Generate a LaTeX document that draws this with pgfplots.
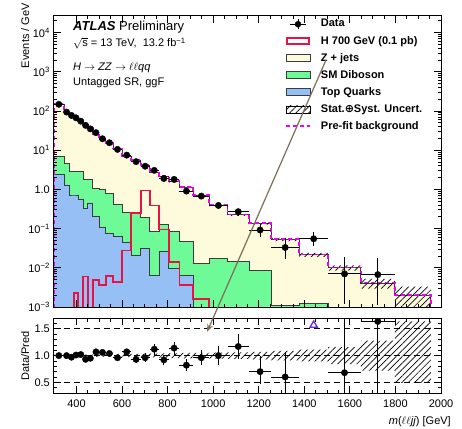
\documentclass[border=0pt]{standalone}
\usepackage{fontspec}
\setmainfont{Liberation Sans}
\newfontfamily\djv{DejaVu Sans}
\usepackage{pgfplots}
\pgfplotsset{compat=1.18}
\usepackage{pgfplotstable}
\usetikzlibrary{patterns,patterns.meta,arrows.meta}

\definecolor{zj}{RGB}{254,250,220}
\definecolor{dib}{RGB}{110,250,150}
\definecolor{topq}{RGB}{150,192,245}
\definecolor{sigc}{RGB}{230,20,70}
\definecolor{pref}{RGB}{240,0,240}
\definecolor{outl}{RGB}{60,60,60}
\definecolor{arrc}{RGB}{125,110,90}
\definecolor{tric}{RGB}{100,40,240}

\pgfplotstableread{
x tot grn blu sig pre
300 1e-5 1e-5 1e-5 1e-5 1e-5
300 148 6.8 2.4 1e-5 151
345 94 4.5 1.3 1e-5 96
368 79 2.9 0.72 1e-5 80.5
388 66 2.9 0.72 0.0023 67.3
408 54 2.9 0.55 1e-5 55
430 46 1.8 0.33 0.006 47
450 37 1.8 0.45 1e-5 37.7
472 26 1.04 0.2 0.005 26.5
499 18.5 1.0 0.11 0.0036 18.9
529 14.9 0.79 0.075 0.0061 15.2
560 10.9 0.41 0.064 0.0043 11.1
600 7.0 0.26 0.044 0.0276 7.15
641 5.5 0.24 0.021 0.254 5.6
682 4.06 0.19 0.031 0.94 4.14
721 2.77 0.087 0.0064 0.39 2.83
762 2.17 0.128 0.026 0.095 2.21
805 1.58 0.087 0.0095 0.014 1.61
852 1.15 0.048 0.0064 0.0036 1.17
913 0.70 0.0127 1e-5 0.0016 0.714
983 0.39 0.017 1e-5 1e-5 0.398
1063 0.225 0.0148 1e-5 1e-5 0.23
1157 0.136 0.0087 1e-5 1e-5 0.139
1255 0.053 0.0011 1e-5 1e-5 0.054
1377 0.0215 0.0012 1e-5 1e-5 0.0219
1505 0.0100 1e-5 1e-5 1e-5 0.0102
1648 0.0041 1e-5 1e-5 1e-5 0.0042
1797 0.0020 1e-5 1e-5 1e-5 0.00205
1955 0.0020 1e-5 1e-5 1e-5 0.00205
1955 1e-5 1e-5 1e-5 1e-5 1e-5
}\stack

\pgfplotstableread{
x y ex eyp eym
322.5 148 22.5 2 2
356.5 94 11.5 2 2
378 77 10 2 2
398 67 10 1.8 1.8
419 55 11 1.6 1.6
440 43 10 1.5 1.5
461 35 11 1.3 1.3
485.5 28 13.5 1 1
514 19.6 15 0.8 0.8
544.5 15.5 15.5 0.7 0.7
580 10.5 20 0.5 0.5
620.5 7.5 20.5 0.43 0.43
661.5 5.1 20.5 0.35 0.35
701.5 3.9 19.5 0.32 0.32
741.5 3.06 20.5 0.27 0.27
783.5 1.9 21.5 0.22 0.22
828.5 1.8 23.5 0.2 0.2
882.5 0.905 30.5 0.125 0.125
948 0.675 35 0.1 0.1
1023 0.39 40 0.07 0.07
1110 0.27 47 0.055 0.055
1206 0.092 49 0.04 0.03
1316 0.033 61 0.026 0.016
1441 0.055 64 0.027 0.02
1576.5 0.0070 71.5 0.0115 0.0058
1722.5 0.0067 74.5 0.011 0.0056
}\data

\pgfplotstableread{
x r ex ep em
322.5 1.00 22.5 0.012 0.012
356.5 1.00 11.5 0.02 0.02
378 0.97 10 0.02 0.02
398 1.01 10 0.025 0.025
419 1.02 11 0.025 0.025
440 0.93 10 0.03 0.03
461 0.95 11 0.035 0.035
485.5 1.07 13.5 0.04 0.04
514 1.06 15 0.04 0.04
544.5 1.04 15.5 0.045 0.045
580 0.96 20 0.045 0.045
620.5 1.07 20.5 0.06 0.06
661.5 0.93 20.5 0.065 0.065
701.5 0.96 19.5 0.08 0.08
741.5 1.12 20.5 0.1 0.1
783.5 0.92 21.5 0.1 0.1
828.5 1.14 23.5 0.12 0.12
882.5 0.82 30.5 0.11 0.11
948 0.96 35 0.14 0.14
1023 1.00 40 0.18 0.18
1110 1.17 47 0.24 0.24
1206 0.70 49 0.30 0.23
1316 0.60 61 0.47 0.30
1576.5 0.68 71.5 1.15 0.58
1722.5 1.64 74.5 2.7 1.4
}\ratio

\pgfplotsset{
  myaxis/.style={
    scale only axis, width=387.3pt,
    xmin=300, xmax=2000,
    xtick={400,600,...,2000}, minor x tick num=3,
    tick align=inside, axis on top,
    major tick length=7pt, minor tick length=3.5pt,
    every tick/.style={black,line width=0.8pt},
    axis line style={line width=1pt},
    tick label style={font=\fontsize{11}{13}\selectfont},
  },
  hatchband/.style={pattern={Lines[angle=45,distance=4.5pt,line width=0.7pt]}, pattern color=black, draw=none},
}

\begin{document}
\fontsize{11}{13}\selectfont
\begin{tikzpicture}
\path[use as bounding box] (0,0) rectangle (462pt,428pt);

\begin{axis}[myaxis,
  at={(53.7pt,121pt)}, anchor=south west, height=291.3pt,
  ymode=log, ymin=1e-3, ymax=2.7e4,
  xticklabels={},
  ytick={1e-3,1e-2,1e-1,1,10,100,1000,10000},
  yticklabels={10\textsuperscript{−3},10\textsuperscript{−2},10\textsuperscript{−1},1.0,10\textsuperscript{1},10\textsuperscript{2},10\textsuperscript{3},10\textsuperscript{4}},
  minor ytick={2e-3,3e-3,4e-3,5e-3,6e-3,7e-3,8e-3,9e-3,
    2e-2,3e-2,4e-2,5e-2,6e-2,7e-2,8e-2,9e-2,
    0.2,0.3,0.4,0.5,0.6,0.7,0.8,0.9,
    2,3,4,5,6,7,8,9,20,30,40,50,60,70,80,90,
    200,300,400,500,600,700,800,900,2000,3000,4000,5000,6000,7000,8000,9000,20000},
  legend style={at={(axis description cs:0.597,0.99)}, anchor=north west,
    draw=none, fill=none, font=\bfseries\fontsize{11}{13}\selectfont,
    inner sep=0pt, row sep=6.5pt, column sep=10pt,
    nodes={text height=8pt, text depth=2.5pt, inner sep=0pt}},
  legend cell align=left,
]
\addplot[const plot, fill=zj, draw=outl, line width=0.8pt, forget plot] table[x=x,y=tot]{\stack};
\addplot[const plot, fill=dib, draw=outl, line width=0.8pt, forget plot] table[x=x,y=grn]{\stack};
\addplot[const plot, fill=topq, draw=outl, line width=0.8pt, forget plot] table[x=x,y=blu]{\stack};
\addplot[hatchband, forget plot] coordinates {
(300,150.96)(345,150.96)(345,95.88)(368,95.88)(368,80.58)(388,80.58)(388,67.32)(408,67.32)(408,55.08)(430,55.08)(430,46.92)(450,46.92)(450,37.74)(472,37.74)(472,26.65)(499,26.65)(499,18.96)(529,18.96)(529,15.27)(560,15.27)(560,11.23)(600,11.23)(600,7.21)(641,7.21)(641,5.665)(682,5.665)(682,4.20)(721,4.20)(721,2.87)(762,2.87)(762,2.257)(805,2.257)(805,1.651)(852,1.651)(852,1.2075)(913,1.2075)(913,0.735)(983,0.735)(983,0.4115)(1063,0.4115)(1063,0.2385)(1157,0.2385)(1157,0.1455)(1255,0.1455)(1255,0.0578)(1377,0.0578)(1377,0.02387)(1505,0.02387)(1505,0.0115)(1648,0.0115)(1648,0.00525)(1797,0.00525)(1797,0.0033)(1955,0.0033)
(1955,0.00098)(1797,0.00098)(1797,0.00295)(1648,0.00295)(1648,0.0085)(1505,0.0085)(1505,0.01914)(1377,0.01914)(1377,0.0482)(1255,0.0482)(1255,0.1265)(1157,0.1265)(1157,0.2115)(1063,0.2115)(1063,0.3685)(983,0.3685)(983,0.665)(913,0.665)(913,1.0925)(852,1.0925)(852,1.509)(805,1.509)(805,2.083)(762,2.083)(762,2.67)(721,2.67)(721,3.92)(682,3.92)(682,5.335)(641,5.335)(641,6.79)(600,6.79)(600,10.57)(560,10.57)(560,14.53)(529,14.53)(529,18.04)(499,18.04)(499,25.35)(472,25.35)(472,36.26)(450,36.26)(450,45.08)(430,45.08)(430,52.92)(408,52.92)(408,64.68)(388,64.68)(388,77.42)(368,77.42)(368,92.12)(345,92.12)(345,145.04)(300,145.04)
};
\addplot[const plot, draw=sigc, line width=1.8pt, forget plot] table[x=x,y=sig]{\stack};
\addplot[const plot, draw=pref, line width=1.8pt, dash pattern=on 4pt off 3pt, forget plot] table[x=x,y=pre]{\stack};
\addplot[only marks, mark=*, mark size=3.2pt, black, forget plot,
  error bars/.cd, x dir=both, x explicit, y dir=both, y explicit,
  error bar style={line width=0.8pt,black}, error mark=none]
  table[x=x,y=y,x error=ex,y error plus=eyp,y error minus=eym]{\data};

\addlegendimage{legend image code/.code={\draw[black,line width=0.8pt] (12pt,-5pt)--(12pt,5pt) (4pt,0pt)--(20pt,0pt); \fill[black] (12pt,0pt) circle (3pt);}}
\addlegendentry{Data}
\addlegendimage{legend image code/.code={\draw[sigc,line width=1.8pt,fill=white] (1pt,-3pt) rectangle (23pt,3pt);}}
\addlegendentry{H 700 GeV (0.1 pb)}
\addlegendimage{legend image code/.code={\draw[outl,line width=0.8pt,fill=zj] (0pt,-3.5pt) rectangle (24pt,3.5pt);}}
\addlegendentry{Z + jets}
\addlegendimage{legend image code/.code={\draw[outl,line width=0.8pt,fill=dib] (0pt,-3.5pt) rectangle (24pt,3.5pt);}}
\addlegendentry{SM Diboson}
\addlegendimage{legend image code/.code={\draw[outl,line width=0.8pt,fill=topq] (0pt,-3.5pt) rectangle (24pt,3.5pt);}}
\addlegendentry{Top Quarks}
\addlegendimage{legend image code/.code={\fill[pattern={Lines[angle=45,distance=4.5pt,line width=0.7pt]}, pattern color=black] (0pt,-3.5pt) rectangle (24pt,3.5pt);}}
\addlegendentry{Stat.{\djv ⊕}Syst. Uncert.}
\addlegendimage{legend image code/.code={\draw[pref,line width=1.8pt,dash pattern=on 4pt off 3pt] (0pt,0pt)--(24pt,0pt);}}
\addlegendentry{Pre-fit background}
\end{axis}

\begin{axis}[myaxis,
  at={(53.7pt,35pt)}, anchor=south west, height=74.8pt,
  ymin=0.3, ymax=1.7,
  xticklabels={400,600,800,1000,1200,1400,1600,1800,2000},
  xticklabel style={yshift=-3pt},
  ytick={0.5,1,1.5}, yticklabels={0.5,1.0,1.5},
  minor ytick={0.4,0.6,0.7,0.8,0.9,1.1,1.2,1.3,1.4,1.6},
]
\addplot[hatchband] coordinates {
(300,1.02)(472,1.02)(472,1.025)(560,1.025)(560,1.03)(682,1.03)(682,1.035)(762,1.035)(762,1.04)(805,1.04)(805,1.045)(852,1.045)(852,1.05)(983,1.05)(983,1.055)(1063,1.055)(1063,1.06)(1157,1.06)(1157,1.07)(1255,1.07)(1255,1.09)(1377,1.09)(1377,1.11)(1505,1.11)(1505,1.16)(1648,1.16)(1648,1.28)(1797,1.28)(1797,1.64)(1955,1.64)
(1955,0.49)(1797,0.49)(1797,0.72)(1648,0.72)(1648,0.84)(1505,0.84)(1505,0.89)(1377,0.89)(1377,0.91)(1255,0.91)(1255,0.93)(1157,0.93)(1157,0.94)(1063,0.94)(1063,0.945)(983,0.945)(983,0.95)(852,0.95)(852,0.955)(805,0.955)(805,0.96)(762,0.96)(762,0.965)(682,0.965)(682,0.97)(560,0.97)(560,0.975)(472,0.975)(472,0.98)(300,0.98)
};
\addplot[black, line width=0.8pt, dash pattern=on 6pt off 4pt] coordinates {(300,0.5) (2000,0.5)};
\addplot[black, line width=0.8pt, dash pattern=on 6pt off 4pt] coordinates {(300,1) (2000,1)};
\addplot[black, line width=0.8pt, dash pattern=on 6pt off 4pt] coordinates {(300,1.5) (2000,1.5)};
\addplot[only marks, mark=*, mark size=3.2pt, black,
  error bars/.cd, x dir=both, x explicit, y dir=both, y explicit,
  error bar style={line width=0.8pt,black}, error mark=none]
  table[x=x,y=r,x error=ex,y error plus=ep,y error minus=em]{\ratio};
\addplot[only marks, mark=triangle, mark size=4.2pt, mark options={draw=tric, line width=1.3pt, fill=none}] coordinates {(1441,1.57)};
\end{axis}

\node[anchor=base west, inner sep=0pt, font=\fontsize{13}{15}\selectfont] at (73pt,397.5pt) {\textbf{\textit{ATLAS}} Preliminary};
\node[anchor=base west, inner sep=0pt] at (73pt,381pt) {\smash{$\sqrt{\mbox{s}}$} = 13 TeV,\ \ 13.2 fb\textsuperscript{−1}};
\node[anchor=base west, inner sep=0pt] at (73pt,357.5pt) {\textit{H} $\rightarrow$ \textit{ZZ} $\rightarrow$ $\ell\ell$\textit{qq}};
\node[anchor=base west, inner sep=0pt] at (73pt,342.5pt) {Untagged SR, ggF};
\node[anchor=base east, inner sep=0pt] at (451pt,4pt) {\textit{m}($\ell\ell$\textit{jj}) [GeV]};
\node[rotate=90, anchor=base east, inner sep=0pt] at (29pt,425pt) {Events / GeV};
\node[rotate=90, anchor=base, inner sep=0pt] at (29pt,72pt) {Data/Pred};
\draw[arrc, line width=1.2pt, -{Stealth[length=8pt,width=6pt]}] (326pt,368pt) -- (207pt,96pt);
\end{tikzpicture}
\end{document}
